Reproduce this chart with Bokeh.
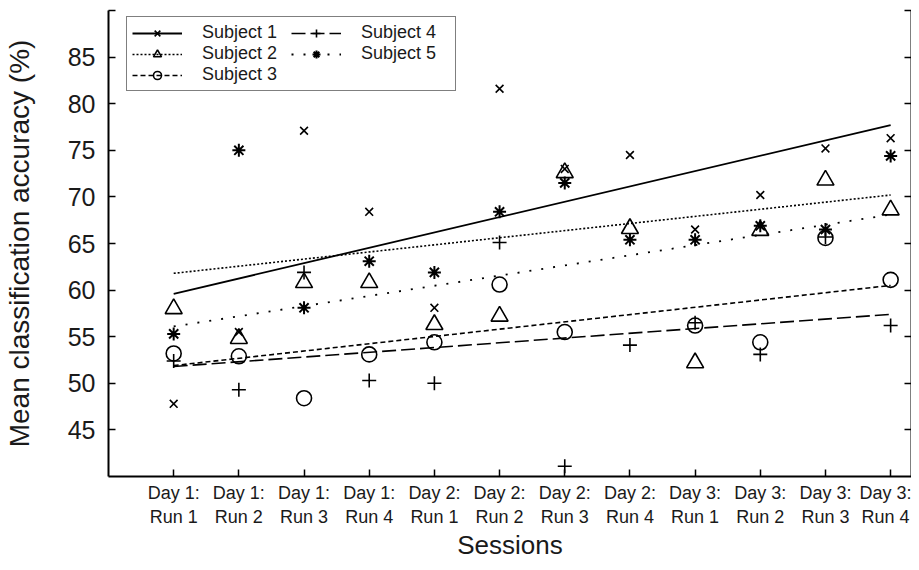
import math
from bokeh.plotting import figure
from bokeh.models import (Range1d, FixedTicker, LinearAxis, Legend, LegendItem)
from bokeh.embed import file_html
from bokeh.resources import INLINE

sessions = ["Day 1:\nRun 1", "Day 1:\nRun 2", "Day 1:\nRun 3", "Day 1:\nRun 4",
            "Day 2:\nRun 1", "Day 2:\nRun 2", "Day 2:\nRun 3", "Day 2:\nRun 4",
            "Day 3:\nRun 1", "Day 3:\nRun 2", "Day 3:\nRun 3", "Day 3:\nRun 4"]

subject_names = ["Subject 1", "Subject 2", "Subject 3", "Subject 4", "Subject 5"]

subject1 = [47.8, 55.5, 77.1, 68.4, 58.1, 81.6, 73.0, 74.5, 66.5, 70.2, 75.2, 76.3]
subject2 = [58.0, 54.8, 60.8, 60.8, 56.3, 57.2, 72.6, 66.6, 52.2, 66.4, 71.8, 68.6]
subject3 = [53.2, 52.9, 48.4, 53.1, 54.4, 60.6, 55.5, float("nan"), 56.2, 54.4, 65.6, 61.1]
subject4 = [52.4, 49.3, 61.9, 50.3, 50.0, 65.1, 41.1, 54.1, 56.5, 53.1, 65.7, 56.2]
subject5 = [55.3, 75.0, 58.1, 63.1, 61.9, 68.4, 71.5, 65.4, 65.4, 66.9, 66.5, 74.4]

# trend lines (first session value, last session value) as drawn
trend_start = [59.6, 61.8, 51.9, 51.8, 56.1]
trend_end = [77.7, 70.2, 60.5, 57.4, 68.1]

y_ticks = [45, 50, 55, 60, 65, 70, 75, 80, 85]
y_extra_ticks = [90]

FONT = "Liberation Sans"

x_pos = list(range(1, len(sessions) + 1))

p = figure(width=911, height=562, output_backend="svg", toolbar_location=None,
           x_range=Range1d(0, 12.32), y_range=Range1d(40, 90),
           min_border_left=105, min_border_top=10, min_border_right=0,
           min_border_bottom=0)
p.outline_line_color = None
p.xgrid.visible = False
p.ygrid.visible = False
p.background_fill_color = "white"
p.border_fill_color = "white"

# x axis
xa = p.xaxis[0]
xa.ticker = FixedTicker(ticks=x_pos)
xa.major_label_overrides = {i: s for i, s in zip(x_pos, sessions)}
xa.major_tick_in = 7
xa.major_tick_out = 0
xa.minor_tick_line_color = None
xa.axis_line_width = 2
xa.major_tick_line_width = 1.5
xa.major_label_text_font = FONT
xa.major_label_text_font_size = "18px"
xa.major_label_text_color = "#1a1a1a"
xa.major_label_text_line_height = 1.2
xa.major_label_standoff = 6
xa.axis_label = "Sessions"
xa.axis_label_text_font = FONT
xa.axis_label_text_font_size = "26px"
xa.axis_label_text_font_style = "normal"
xa.axis_label_text_color = "#1a1a1a"
xa.axis_label_standoff = 0

# y axis
ya = p.yaxis[0]
ya.ticker = FixedTicker(ticks=y_ticks, minor_ticks=y_extra_ticks)
ya.major_tick_in = 7
ya.major_tick_out = 0
ya.minor_tick_in = 7
ya.minor_tick_out = 0
ya.minor_tick_line_width = 1.5
ya.axis_line_width = 2
ya.major_tick_line_width = 1.5
ya.major_label_text_font = FONT
ya.major_label_text_font_size = "25px"
ya.major_label_text_color = "#1a1a1a"
ya.major_label_standoff = 13
ya.axis_label = "Mean classification accuracy (%)"
ya.axis_label_text_font = FONT
ya.axis_label_text_font_size = "28px"
ya.axis_label_text_font_style = "normal"
ya.axis_label_text_color = "#1a1a1a"
ya.axis_label_standoff = 30

# right axis: tick marks only (drawn as minor ticks, so no labels)
ra = LinearAxis(ticker=FixedTicker(ticks=[], minor_ticks=y_ticks + y_extra_ticks))
ra.major_label_standoff = 0
ra.major_tick_in = 0
ra.major_tick_out = 0
ra.minor_tick_in = 7
ra.minor_tick_out = 0
ra.minor_tick_line_width = 1.5
ra.axis_line_width = 2
p.add_layout(ra, "right")

subjects = [subject1, subject2, subject3, subject4, subject5]
markers = ["x", "triangle", "circle", "cross", "asterisk"]
msizes = [11, 17, 15, 14, 13]
mwidths = [1.6, 1.6, 1.6, 1.6, 2.0]
dashes = ["solid", "2 2", "5 3", "14 5", "2 10"]
lwidths = [1.8, 1.6, 1.6, 1.6, 1.8]

items = []
for name, vals, mk, ms, mw, ds, lw, t0, t1 in zip(subject_names, subjects, markers, msizes,
                                                  mwidths, dashes, lwidths, trend_start, trend_end):
    sc = p.scatter(x=x_pos, y=vals, marker=mk, size=ms, line_color="black",
                   fill_color=None, line_width=mw)
    ln = p.line(x=[x_pos[0], x_pos[-1]], y=[t0, t1], line_color="black",
                line_width=lw, line_dash=ds)
    items.append(LegendItem(label=name, renderers=[ln, sc]))

legend = Legend(items=items, location=(18, 385), orientation="vertical", nrows=3)
legend.border_line_color = "black"
legend.border_line_width = 1.5
legend.background_fill_color = "white"
legend.background_fill_alpha = 1
legend.label_text_font = FONT
legend.label_text_font_size = "18px"
legend.label_text_color = "#1a1a1a"
legend.glyph_width = 50
legend.glyph_height = 20
legend.label_height = 18
legend.label_width = 89
legend.label_standoff = 20
legend.spacing = 0
legend.padding = 5
legend.margin = 0
p.add_layout(legend, "center")

open("out.html", "w").write(file_html(p, INLINE))
